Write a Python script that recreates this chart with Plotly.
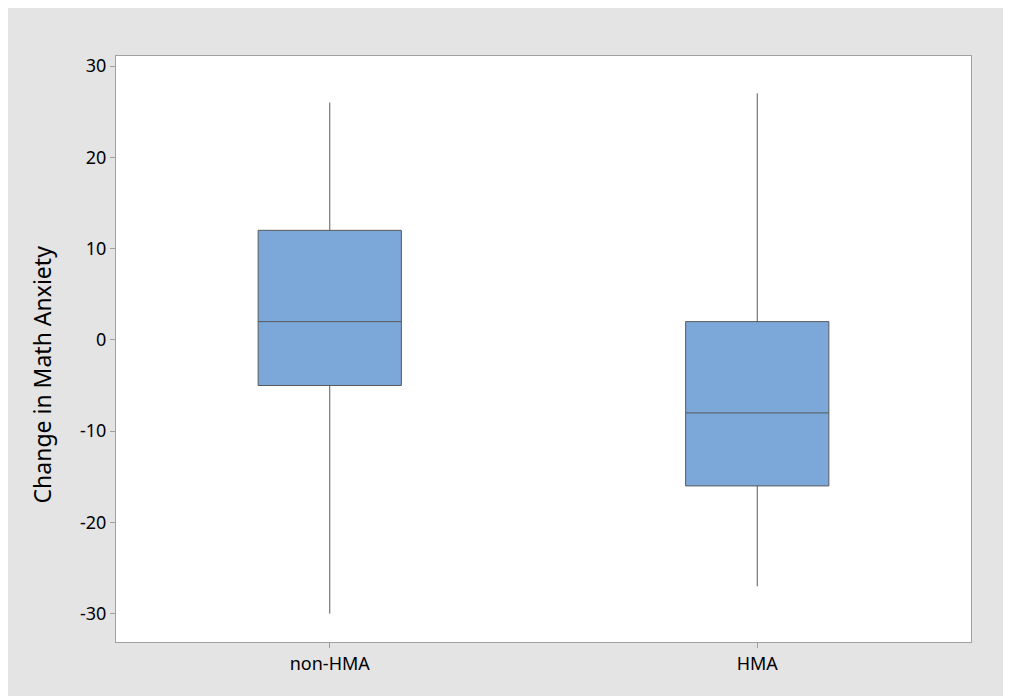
import plotly.graph_objects as go

# 组别与箱线图统计量
groups = ['non-HMA', 'HMA']
lower_whisker = [-30, -27]
q1_values = [-5, -16]
median_values = [2, -8]
q3_values = [12, 2]
upper_whisker = [26, 27]

y_ticks = [-30, -20, -10, 0, 10, 20, 30]
y_tick_labels = ['-30', '-20', '-10', '0', '10', '20', '30']
y_title = 'Change in Math Anxiety'

fig = go.Figure()

fig.add_trace(go.Box(
    x=groups,
    lowerfence=lower_whisker,
    q1=q1_values,
    median=median_values,
    q3=q3_values,
    upperfence=upper_whisker,
    fillcolor='#7ba7d9',
    line=dict(color='#5a5a5a', width=1),
    whiskerwidth=0,
    showlegend=False,
    hoverinfo='y',
))

# Y 轴标题（Minitab 风格，略偏下）
fig.add_annotation(
    text=y_title,
    xref='paper', yref='paper',
    x=0, y=0.4565,
    xanchor='center', yanchor='middle',
    xshift=-74,
    textangle=-90,
    showarrow=False,
    font=dict(size=23),
)

fig.update_layout(
    width=1003,
    height=690,
    paper_bgcolor='#e4e4e4',
    plot_bgcolor='white',
    margin=dict(l=108, r=40, t=48, b=56),
    boxgap=0.665,
    boxgroupgap=0,
    font=dict(family='Noto Sans, Open Sans, sans-serif', color='black', size=18),
)

fig.update_yaxes(
    range=[-33.1, 31.1],
    tickvals=y_ticks,
    ticktext=y_tick_labels,
    ticks='outside',
    ticklen=5,
    tickcolor='#a0a0a0',
    showgrid=False,
    zeroline=False,
    showline=True,
    linecolor='#a0a0a0',
    linewidth=1,
    mirror=True,
)

fig.update_xaxes(
    ticks='outside',
    ticklen=5,
    tickcolor='#a0a0a0',
    showgrid=False,
    showline=True,
    linecolor='#a0a0a0',
    linewidth=1,
    mirror=True,
)

fig.write_html('out.html')
